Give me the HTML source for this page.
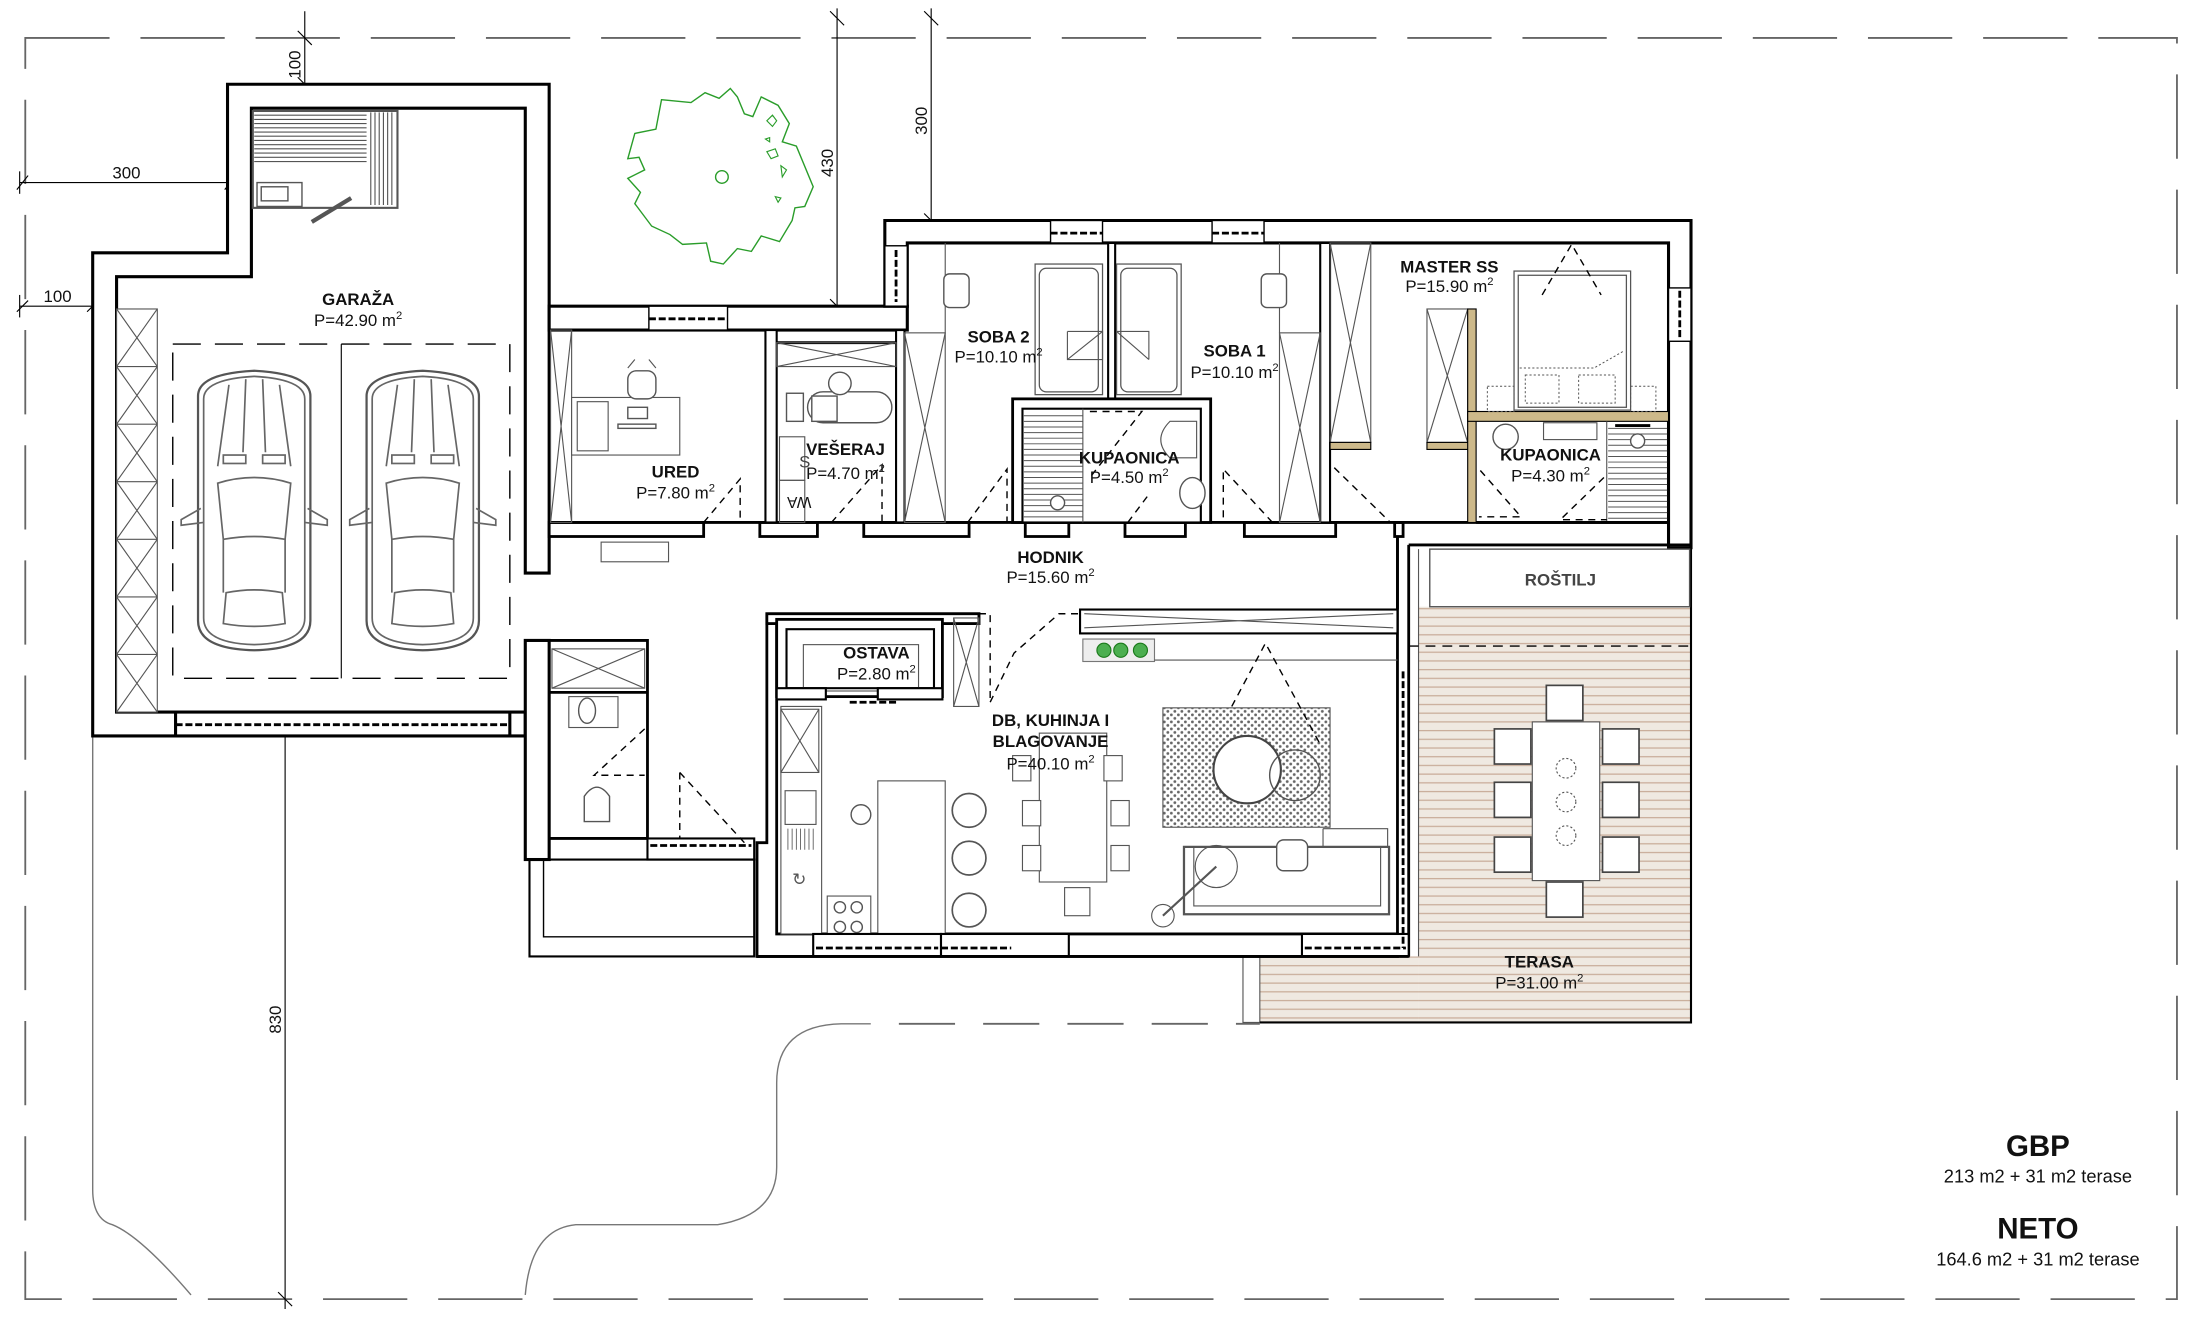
<!DOCTYPE html>
<html><head><meta charset="utf-8">
<style>
html,body{margin:0;padding:0;background:#fff;}
svg{display:block;}
text{font-family:"Liberation Sans Narrow","Liberation Sans",sans-serif;fill:#111;}
.lb{font-weight:bold;font-size:12px;text-anchor:middle;}
.ar{font-size:12px;text-anchor:middle;}
.w{fill:#fff;stroke:#000;stroke-width:2.2;}
.t{fill:none;stroke:#555;stroke-width:0.8;}
.g{fill:none;stroke:#666;stroke-width:1.2;}
.d{fill:none;stroke:#000;stroke-width:1;stroke-dasharray:5,4;}
.dd{fill:none;stroke:#000;stroke-width:2;stroke-dasharray:5,2;}
.pb{fill:none;stroke:#666;stroke-width:1.3;stroke-dasharray:60,22;}
.dim{stroke:#000;stroke-width:0.8;fill:none;}
</style></head>
<body>
<svg width="2191" height="1323" viewBox="0 0 1560 942" preserveAspectRatio="none" xmlns="http://www.w3.org/2000/svg">
<defs>
<pattern id="deck" width="10" height="6.2" patternUnits="userSpaceOnUse">
<rect width="10" height="6.2" fill="#efe9e1"/><line x1="0" y1="5.6" x2="10" y2="5.6" stroke="#c9ad9a" stroke-width="0.9"/>
</pattern>
<pattern id="dots" width="5" height="5" patternUnits="userSpaceOnUse">
<rect width="5" height="5" fill="#fff"/><circle cx="1.5" cy="1.5" r="1" fill="#666"/><circle cx="4" cy="4" r="1" fill="#666"/>
</pattern>
<g id="car">
<path d="M0,20 Q0,4 40,2 Q80,4 80,20 L80,180 Q80,200 40,201 Q0,200 0,180 Z" fill="#fff" stroke="#555" stroke-width="1.6"/>
<path d="M4,22 Q4,8 40,6 Q76,8 76,22 L76,178 Q76,196 40,197 Q4,196 4,178Z" class="g"/>
<path d="M14,82 Q40,74 66,82 L62,122 Q40,118 18,122 Z" class="g"/>
<path d="M20,160 Q40,156 60,160 L62,182 Q40,186 18,182Z" class="g"/>
<path d="M22,12 L14,70 M58,12 L66,70 M34,8 L32,60 M46,8 L48,60" class="g"/>
<rect x="18" y="62" width="16" height="6" class="g"/><rect x="46" y="62" width="16" height="6" class="g"/>
<path d="M2,100 L-12,108 L-12,112 L4,110 M78,100 L92,108 L92,112 L76,110" class="g"/>
<path d="M18,122 L18,160 M62,122 L62,160" class="g"/>
</g>
<g id="chairO">
<rect x="-9" y="-9" width="18" height="18" fill="#fff" stroke="#444" stroke-width="1"/>
</g>
</defs>

<!-- property boundary -->
<path d="M18,27 H1550 V925 H18 Z" class="pb"/>
<!-- landscape curves -->
<path d="M66,525 V847 Q66,868 80,872 Q100,880 136,922" fill="none" stroke="#777" stroke-width="1"/>
<path d="M374,922 Q378,875 410,872 H511 Q553,865 553,831 V771 Q553,730 599,729 H620" fill="none" stroke="#777" stroke-width="1"/>
<path d="M640,729 H897" class="pb" style="stroke-dasharray:40,20"/>

<!-- dimension lines -->
<g class="dim">
<line x1="217" y1="8" x2="217" y2="62"/><line x1="212" y1="22" x2="222" y2="32"/><line x1="212" y1="55" x2="222" y2="65"/>
<line x1="14" y1="130" x2="168" y2="130"/><line x1="14" y1="122" x2="14" y2="138"/><line x1="12" y1="135" x2="20" y2="125"/><line x1="160" y1="135" x2="168" y2="125"/>
<line x1="14" y1="218" x2="70" y2="218"/><line x1="14" y1="210" x2="14" y2="226"/><line x1="12" y1="222" x2="20" y2="214"/><line x1="62" y1="222" x2="70" y2="214"/>
<line x1="596" y1="6" x2="596" y2="225"/><line x1="591" y1="8" x2="601" y2="18"/><line x1="591" y1="213" x2="601" y2="223"/>
<line x1="663" y1="6" x2="663" y2="162"/><line x1="658" y1="8" x2="668" y2="18"/><line x1="658" y1="152" x2="668" y2="162"/>
<line x1="203" y1="525" x2="203" y2="932"/><line x1="198" y1="920" x2="208" y2="930"/>
</g>
<text x="0" y="0" font-size="12" transform="translate(214,46) rotate(-90)" text-anchor="middle">100</text>
<text x="90" y="127" font-size="12" text-anchor="middle">300</text>
<text x="41" y="215" font-size="12" text-anchor="middle">100</text>
<text x="0" y="0" font-size="12" transform="translate(593,116) rotate(-90)" text-anchor="middle">430</text>
<text x="0" y="0" font-size="12" transform="translate(660,86) rotate(-90)" text-anchor="middle">300</text>
<text x="0" y="0" font-size="12" transform="translate(200,726) rotate(-90)" text-anchor="middle">830</text>

<!-- tree -->
<path d="M471,71 L492,73 L502,66 L512,70 L520,63 L525,69 L530,81 L536,83 L542,69 L554,75 L562,88 L557,101 L567,104 L579,133 L573,147 L566,148 L564,157 L555,172 L542,168 L535,179 L525,177 L515,188 L506,186 L503,173 L486,174 L477,167 L464,161 L452,145 L456,137 L447,127 L459,121 L455,112 L447,113 L452,95 L467,92 Z" fill="none" stroke="#2a9d2a" stroke-width="1"/>
<circle cx="514" cy="126" r="4.5" fill="none" stroke="#2a9d2a"/>
<path d="M546,86 l4,-4 l3,4 l-3,4z M546,108 l6,-2 l2,5 l-5,2z M556,118 l4,3 l-3,5z M552,140 l4,1 l-2,3z M545,99 l3,-1 l0,3z" fill="none" stroke="#2a9d2a" stroke-width="0.8"/>

<!-- ===== GARAGE ===== -->
<path d="M66,524 V180 H162 V60 H391 V408 H374 V77 H179 V197 H83 V507 H374 V524 Z" class="w"/>
<rect x="374" y="456" width="17" height="156" class="w"/>
<rect x="125" y="507" width="238" height="17" class="w"/>
<line x1="125" y1="516" x2="363" y2="516" class="dd"/>
<!-- shelving -->
<rect x="83" y="220" width="29" height="287" fill="#fff" stroke="#555" stroke-width="0.8"/>
<g class="t">
<path d="M83,220 L112,261 M112,220 L83,261 M83,261 H112 M83,261 L112,302 M112,261 L83,302 M83,302 H112 M83,302 L112,343 M112,302 L83,343 M83,343 H112 M83,343 L112,384 M112,343 L83,384 M83,384 H112 M83,384 L112,425 M112,384 L83,425 M83,425 H112 M83,425 L112,466 M112,425 L83,466 M83,466 H112 M83,466 L112,507 M112,466 L83,507"/>
</g>
<!-- parking -->
<rect x="123" y="245" width="240" height="238" class="d" style="stroke-dasharray:20,10"/>
<line x1="243" y1="245" x2="243" y2="483" stroke="#000" stroke-width="0.8"/>
<use href="#car" x="141" y="262"/>
<use href="#car" x="261" y="262"/>
<!-- sauna -->
<rect x="180" y="79" width="103" height="69" fill="#fff" stroke="#555" stroke-width="1.5"/>
<g stroke="#555" stroke-width="0.8">
<path d="M181,82H261 M181,85H261 M181,88H261 M181,91H261 M181,94H261 M181,97H261 M181,100H261 M181,103H261 M181,106H261 M181,109H261 M181,112H261 M181,115H261"/>
<path d="M264,80V146 M267,80V146 M270,80V146 M273,80V146 M276,80V146 M279,80V146"/>
</g>
<rect x="181" y="116" width="80" height="31" fill="#fff"/>
<rect x="183" y="130" width="32" height="17" fill="#fff" stroke="#555"/>
<rect x="186" y="133" width="19" height="10" fill="none" stroke="#555"/>
<line x1="222" y1="158" x2="250" y2="141" stroke="#555" stroke-width="3"/>

<!-- ===== SOUTH-WEST (corridor top wall) ===== -->
<rect x="391" y="218" width="255" height="17" class="w"/>
<rect x="462" y="218" width="56" height="17" fill="#fff" stroke="#000" stroke-width="1"/>
<line x1="462" y1="227" x2="518" y2="227" class="dd"/>
<!-- block top -->
<path d="M630,218 V157 H1204 V390 H1188 V173 H646 V218 Z" class="w"/>
<rect x="630" y="175" width="16" height="43" fill="#fff" stroke="#000" stroke-width="1"/>
<line x1="638" y1="178" x2="638" y2="215" class="dd"/>
<rect x="748" y="157" width="37" height="16" fill="#fff" stroke="#000" stroke-width="1"/>
<line x1="748" y1="166" x2="785" y2="166" class="dd"/>
<rect x="863" y="157" width="37" height="16" fill="#fff" stroke="#000" stroke-width="1"/>
<line x1="863" y1="166" x2="900" y2="166" class="dd"/>
<rect x="1188" y="205" width="16" height="38" fill="#fff" stroke="#000" stroke-width="1"/>
<line x1="1196" y1="207" x2="1196" y2="241" class="dd"/>

<!-- room row bottom walls -->
<g class="w" style="stroke-width:2">
<rect x="391" y="372" width="110" height="10"/>
<rect x="541" y="372" width="41" height="10"/>
<rect x="615" y="372" width="75" height="10"/>
<rect x="730" y="372" width="31" height="10"/>
<rect x="801" y="372" width="43" height="10"/>
<rect x="886" y="372" width="65" height="10"/>
<rect x="993" y="372" width="6" height="10"/>
</g>
<line x1="391" y1="372" x2="1188" y2="372" stroke="#000" stroke-width="2"/>
<!-- partitions -->
<rect x="545" y="235" width="8" height="137" class="w" style="stroke-width:1.5"/>
<rect x="638" y="235" width="6" height="137" class="w" style="stroke-width:1.5"/>
<rect x="789" y="173" width="5" height="111" class="w" style="stroke-width:1.5"/>
<rect x="940" y="173" width="7" height="199" class="w" style="stroke-width:1.5"/>
<line x1="553" y1="244" x2="638" y2="244" stroke="#000" stroke-width="2"/>
<!-- UREd -->
<rect x="392" y="235" width="15" height="137" fill="none" stroke="#555" stroke-width="0.8"/>
<path d="M392,235 L407,372 M407,235 L392,372" class="t"/>
<rect x="407" y="283" width="77" height="41" fill="#fff" stroke="#555" stroke-width="0.8"/>
<rect x="411" y="286" width="22" height="35" fill="none" stroke="#555" stroke-width="0.8"/>
<rect x="447" y="290" width="14" height="8" fill="none" stroke="#555"/>
<rect x="440" y="302" width="27" height="3" fill="none" stroke="#555"/>
<rect x="447" y="264" width="20" height="20" rx="6" fill="#fff" stroke="#555"/>
<path d="M447,262 L452,256 M467,262 L462,256" class="t"/>
<path d="M501,372 L527,341 L527,372" class="d"/>
<rect x="428" y="386" width="48" height="14" fill="none" stroke="#555" stroke-width="0.8"/>
<text class="lb" x="481" y="340">URED</text>
<text class="ar" x="481" y="355">P=7.80 m<tspan dy="-5" font-size="8">2</tspan></text>
<!-- VESERAJ -->
<rect x="553" y="244" width="85" height="17" fill="none" stroke="#555" stroke-width="0.8"/>
<path d="M553,244 L638,261 M638,244 L553,261" class="t"/>
<rect x="575" y="279" width="60" height="22" rx="11" fill="#fff" stroke="#555"/>
<rect x="560" y="280" width="12" height="20" fill="none" stroke="#555"/>
<rect x="578" y="282" width="18" height="18" fill="#fff" stroke="#555"/>
<circle cx="598" cy="273" r="8" fill="#fff" stroke="#555"/>
<rect x="555" y="311" width="18" height="31" fill="none" stroke="#555" stroke-width="0.8"/>
<rect x="555" y="342" width="18" height="30" fill="none" stroke="#555" stroke-width="0.8"/>
<text x="569" y="333" font-size="12" fill="#444" style="fill:#444">S</text>
<text x="569" y="362" font-size="11" text-anchor="middle" transform="rotate(180,569,358)">WA</text>
<path d="M592,372 L628,331 L628,372" class="d"/>
<text class="lb" x="602" y="324">VEŠERAJ</text>
<text class="ar" x="602" y="341">P=4.70 m<tspan dy="-5" font-size="8">2</tspan></text>
<!-- SOBA 2 -->
<rect x="644" y="237" width="29" height="135" fill="none" stroke="#555" stroke-width="0.8"/>
<path d="M644,237 L673,372 M673,237 L644,372" class="t"/>
<line x1="673" y1="173" x2="673" y2="237" class="t"/>
<rect x="672" y="195" width="18" height="24" rx="4" fill="#fff" stroke="#555"/>
<rect x="737" y="188" width="48" height="93" fill="#fff" stroke="#555" stroke-width="0.9"/>
<rect x="740" y="191" width="42" height="88" rx="5" fill="none" stroke="#555" stroke-width="0.9"/>
<path d="M760,236 H785 V256 M760,236 V256 H785 M760,256 L785,236" class="t"/>
<path d="M689,372 L717,334 L717,372" class="d"/>
<text class="lb" x="711" y="244">SOBA 2</text>
<text class="ar" x="711" y="258">P=10.10 m<tspan dy="-5" font-size="8">2</tspan></text>
<!-- SOBA 1 -->
<rect x="911" y="237" width="29" height="135" fill="none" stroke="#555" stroke-width="0.8"/>
<path d="M911,237 L940,372 M940,237 L911,372" class="t"/>
<line x1="911" y1="173" x2="911" y2="237" class="t"/>
<rect x="898" y="195" width="18" height="24" rx="4" fill="#fff" stroke="#555"/>
<rect x="795" y="188" width="46" height="93" fill="#fff" stroke="#555" stroke-width="0.9"/>
<rect x="798" y="191" width="40" height="88" rx="5" fill="none" stroke="#555" stroke-width="0.9"/>
<path d="M795,236 H818 V256 M795,236 L818,256" class="t"/>
<path d="M906,372 L871,334 L871,372" class="d"/>
<text class="lb" x="879" y="254">SOBA 1</text>
<text class="ar" x="879" y="269">P=10.10 m<tspan dy="-5" font-size="8">2</tspan></text>
<!-- KUPAONICA middle -->
<rect x="721" y="284" width="141" height="88" class="w" style="stroke-width:2"/>
<rect x="728" y="291" width="127" height="81" fill="#fff" stroke="#000" stroke-width="1.5"/>
<g stroke="#555" stroke-width="0.7">
<path d="M729,296H771 M729,300H771 M729,304H771 M729,308H771 M729,312H771 M729,316H771 M729,320H771 M729,324H771 M729,328H771 M729,332H771 M729,336H771 M729,340H771 M729,344H771 M729,348H771 M729,352H771 M729,356H771 M729,360H771 M729,364H771 M729,368H771"/>
</g>
<line x1="771" y1="291" x2="771" y2="372" stroke="#555" stroke-width="0.8"/>
<circle cx="753" cy="358" r="5" fill="#fff" stroke="#555"/>
<path d="M833,300 H852 V326 H833 Q820,313 833,300Z" fill="#fff" stroke="#555" stroke-width="0.8"/>
<ellipse cx="849" cy="351" rx="9" ry="11" fill="#fff" stroke="#555"/>
<path d="M776,293 H813 L776,340" class="d"/>
<path d="M803,372 L818,352" class="d"/>
<text class="lb" x="804" y="330">KUPAONICA</text>
<text class="ar" x="804" y="344">P=4.50 m<tspan dy="-5" font-size="8">2</tspan></text>
<!-- MASTER -->
<rect x="947" y="173" width="29" height="142" fill="none" stroke="#555" stroke-width="0.8"/>
<path d="M947,173 L976,315 M976,173 L947,315" class="t"/>
<rect x="947" y="315" width="29" height="5" fill="#cdb98a" stroke="#000" stroke-width="0.8"/>
<rect x="1016" y="220" width="29" height="95" fill="none" stroke="#555" stroke-width="0.8"/>
<path d="M1016,220 L1045,315 M1045,220 L1016,315" class="t"/>
<rect x="1016" y="315" width="34" height="5" fill="#cdb98a" stroke="#000" stroke-width="0.8"/>
<rect x="1045" y="220" width="6" height="152" fill="#cdb98a" stroke="#000" stroke-width="0.8"/>
<rect x="1045" y="293" width="143" height="7" fill="#cdb98a" stroke="#000" stroke-width="0.8"/>
<rect x="1078" y="193" width="83" height="99" fill="#fff" stroke="#555" stroke-width="0.9"/>
<rect x="1081" y="196" width="77" height="94" fill="none" stroke="#555" stroke-width="0.9"/>
<path d="M1082,262 H1135 L1156,250 M1086,267 H1110 V287 H1086Z M1124,267 H1150 V287 H1124Z" fill="none" stroke="#555" stroke-width="0.7" stroke-dasharray="1.5,1.5"/>
<rect x="1059" y="275" width="19" height="18" fill="none" stroke="#555" stroke-width="0.7" stroke-dasharray="1.5,1.5"/>
<rect x="1161" y="275" width="18" height="18" fill="none" stroke="#555" stroke-width="0.7" stroke-dasharray="1.5,1.5"/>
<path d="M1098,210 L1119,174 L1140,210" class="d"/>
<path d="M950,333 L990,372" class="d"/>
<text class="lb" x="1032" y="194">MASTER SS</text>
<text class="ar" x="1032" y="208">P=15.90 m<tspan dy="-5" font-size="8">2</tspan></text>
<!-- master bath -->
<g stroke="#555" stroke-width="0.7">
<path d="M1145,305H1187 M1145,309H1187 M1145,313H1187 M1145,317H1187 M1145,321H1187 M1145,325H1187 M1145,329H1187 M1145,333H1187 M1145,337H1187 M1145,341H1187 M1145,345H1187 M1145,349H1187 M1145,353H1187 M1145,357H1187 M1145,361H1187 M1145,365H1187 M1145,369H1187"/>
</g>
<line x1="1144" y1="300" x2="1144" y2="372" stroke="#555" stroke-width="0.8"/>
<line x1="1150" y1="303" x2="1175" y2="303" stroke="#000" stroke-width="2"/>
<circle cx="1166" cy="314" r="5" fill="#fff" stroke="#555"/>
<circle cx="1072" cy="311" r="9" fill="#fff" stroke="#555"/>
<rect x="1099" y="301" width="38" height="12" fill="none" stroke="#555" stroke-width="0.8"/>
<path d="M1054,335 L1083,368 H1053" class="d"/>
<path d="M1142,340 L1111,370 H1144" class="d"/>
<text class="lb" x="1104" y="328">KUPAONICA</text>
<text class="ar" x="1104" y="343">P=4.30 m<tspan dy="-5" font-size="8">2</tspan></text>
<line x1="1051" y1="372" x2="1188" y2="372" stroke="#000" stroke-width="2"/>

<!-- ===== HALL right wall & roštilj ===== -->
<path d="M995,382 V434 M1003,388 V681" stroke="#000" stroke-width="2" fill="none"/>
<line x1="995" y1="382" x2="995" y2="681" stroke="#000" stroke-width="2"/>
<line x1="1003" y1="388" x2="1204" y2="388" stroke="#000" stroke-width="2"/>
<!-- terrace -->
<rect x="1010" y="432" width="194" height="296" fill="url(#deck)"/>
<rect x="897" y="681" width="113" height="47" fill="url(#deck)"/>
<rect x="885" y="681" width="12" height="47" fill="#fff" stroke="#555" stroke-width="0.8"/>
<path d="M1204,388 V728 H897" stroke="#000" stroke-width="1.5" fill="none"/>
<line x1="1010" y1="391" x2="1010" y2="681" stroke="#555" stroke-width="0.8"/>
<rect x="1018" y="391" width="185" height="41" fill="#fff" stroke="#555" stroke-width="1"/>
<text x="1111" y="417" font-size="12" font-weight="bold" text-anchor="middle" style="fill:#444">ROŠTILJ</text>
<line x1="1003" y1="460" x2="1204" y2="460" class="d" style="stroke-dasharray:7,5"/>
<!-- terrace table -->
<rect x="1091" y="514" width="48" height="113" fill="#fff" stroke="#555" stroke-width="0.8"/>
<g fill="none" stroke="#555" stroke-width="0.8" stroke-dasharray="1.5,1.5">
<circle cx="1115" cy="547" r="7"/><circle cx="1115" cy="571" r="7"/><circle cx="1115" cy="595" r="7"/>
</g>
<g fill="#fff" stroke="#444" stroke-width="1.2">
<rect x="1101" y="488" width="26" height="25"/><rect x="1101" y="628" width="26" height="25"/>
<rect x="1064" y="519" width="26" height="25"/><rect x="1064" y="557" width="26" height="25"/><rect x="1064" y="596" width="26" height="25"/>
<rect x="1141" y="519" width="26" height="25"/><rect x="1141" y="557" width="26" height="25"/><rect x="1141" y="596" width="26" height="25"/>
</g>
<text class="lb" x="1096" y="689">TERASA</text>
<text class="ar" x="1096" y="704">P=31.00 m<tspan dy="-5" font-size="8">2</tspan></text>

<!-- HODNIK -->
<text class="lb" x="748" y="401">HODNIK</text>
<text class="ar" x="748" y="415">P=15.60 m<tspan dy="-5" font-size="8">2</tspan></text>

<!-- ===== LOWER LEFT ===== -->
<path d="M391,456 H461 V597 H391" fill="none" stroke="#000" stroke-width="2"/>
<rect x="393" y="462" width="66" height="28" fill="none" stroke="#555" stroke-width="0.8"/>
<path d="M393,462 L459,490 M459,462 L393,490" class="t"/>
<line x1="391" y1="493" x2="461" y2="493" stroke="#000" stroke-width="2"/>
<rect x="405" y="496" width="35" height="22" fill="none" stroke="#555" stroke-width="0.8"/>
<ellipse cx="418" cy="506" rx="6" ry="9" fill="none" stroke="#555"/>
<path d="M416,575 V567 Q425,554 434,567 V585 H416Z" fill="#fff" stroke="#555"/>
<path d="M459,519 L423,552 H459" class="d"/>
<rect x="461" y="597" width="76" height="15" fill="#fff" stroke="#000" stroke-width="1.5"/>
<line x1="463" y1="602" x2="535" y2="602" class="dd"/>
<path d="M484,550 V597 M484,550 L530,600" class="d"/>
<path d="M377,612 H537 V681 H377Z" fill="none" stroke="#000" stroke-width="1.5"/>
<path d="M387,612 V667 H537" fill="none" stroke="#000" stroke-width="1"/>

<!-- ===== DB / KITCHEN ===== -->
<path d="M546,437 H697 V444 H553 V665 H995 V681 H539 V600 H546 Z" class="w" style="stroke-width:2"/>
<rect x="546" y="437" width="151" height="7" class="w" style="stroke-width:2"/>
<rect x="553" y="441" width="118" height="55" class="w" style="stroke-width:2"/>
<rect x="560" y="448" width="105" height="42" fill="#fff" stroke="#000" stroke-width="1.5"/>
<rect x="572" y="459" width="82" height="33" fill="none" stroke="#555" stroke-width="0.8"/>
<rect x="553" y="490" width="35" height="8" fill="#fff" stroke="#000" stroke-width="1.5"/>
<rect x="625" y="490" width="46" height="8" fill="#fff" stroke="#000" stroke-width="1.5"/>
<line x1="605" y1="500" x2="640" y2="500" class="dd"/>
<text class="lb" x="624" y="469">OSTAVA</text>
<text class="ar" x="624" y="484">P=2.80 m<tspan dy="-5" font-size="8">2</tspan></text>
<rect x="679" y="440" width="18" height="63" fill="none" stroke="#555" stroke-width="0.8"/>
<path d="M679,440 L697,503 M697,440 L679,503" class="t"/>
<path d="M697,437 H705 V500 M705,500 L722,465 L754,437 H769" class="d"/>
<!-- kitchen top strip -->
<rect x="769" y="434" width="226" height="17" fill="#fff" stroke="#000" stroke-width="1.5"/>
<path d="M772,437 L992,447 M992,437 L772,447" class="t"/>
<rect x="771" y="455" width="51" height="16" fill="#eee" stroke="#777" stroke-width="0.8"/>
<g fill="#4caf50" stroke="#1b7a1b" stroke-width="0.8"><circle cx="786" cy="463" r="5"/><circle cx="798" cy="463" r="5"/><circle cx="812" cy="463" r="5"/></g>
<line x1="822" y1="470" x2="995" y2="470" stroke="#555" stroke-width="0.8"/>
<!-- counter -->
<rect x="556" y="503" width="29" height="162" fill="#fff" stroke="#555" stroke-width="0.8"/>
<rect x="556" y="505" width="27" height="45" fill="none" stroke="#555" stroke-width="0.8"/>
<path d="M556,505 L583,550 M583,505 L556,550" class="t"/>
<rect x="559" y="563" width="22" height="24" fill="none" stroke="#555" stroke-width="0.8"/>
<g stroke="#555" stroke-width="0.6"><path d="M561,590V605 M564,590V605 M567,590V605 M570,590V605 M573,590V605 M576,590V605 M579,590V605"/></g>
<text x="569" y="630" font-size="12" text-anchor="middle" style="fill:#555">↻</text>
<rect x="589" y="638" width="31" height="28" fill="#fff" stroke="#555" stroke-width="0.8"/>
<g fill="none" stroke="#555"><circle cx="598" cy="646" r="4"/><circle cx="610" cy="646" r="4"/><circle cx="598" cy="660" r="4"/><circle cx="610" cy="660" r="4"/></g>
<!-- island -->
<rect x="625" y="556" width="48" height="109" fill="#fff" stroke="#555" stroke-width="0.8"/>
<g fill="#fff" stroke="#555" stroke-width="1.2"><circle cx="690" cy="577" r="12"/><circle cx="690" cy="611" r="12"/><circle cx="690" cy="648" r="12"/></g>
<circle cx="613" cy="580" r="7" fill="#fff" stroke="#555"/>
<!-- dining -->
<rect x="740" y="522" width="48" height="106" fill="#fff" stroke="#555" stroke-width="0.8"/>
<g fill="#fff" stroke="#555" stroke-width="0.8">
<rect x="721" y="538" width="13" height="18"/><rect x="786" y="538" width="13" height="18"/>
<rect x="728" y="570" width="13" height="18"/><rect x="791" y="570" width="13" height="18"/>
<rect x="728" y="602" width="13" height="18"/><rect x="791" y="602" width="13" height="18"/>
<rect x="758" y="632" width="18" height="20"/>
</g>
<text class="lb" x="748" y="517">DB, KUHINJA I</text>
<text class="lb" x="748" y="532">BLAGOVANJE</text>
<text class="ar" x="748" y="548">P=40.10 m<tspan dy="-5" font-size="8">2</tspan></text>
<!-- living -->
<rect x="828" y="504" width="119" height="85" fill="url(#dots)" stroke="#555" stroke-width="0.8"/>
<circle cx="888" cy="548" r="24" fill="#fff" stroke="#444" stroke-width="1.5"/>
<circle cx="922" cy="552" r="18" fill="none" stroke="#555"/>
<path d="M877,503 L901,458 L940,530" class="d"/>
<path d="M843,603 H989 V651 H843 Z" fill="none" stroke="#555" stroke-width="1.6"/>
<path d="M850,603 V645 H983 V603" fill="none" stroke="#555" stroke-width="0.8"/>
<path d="M942,590 V603 M942,590 H988 V603" fill="none" stroke="#555" stroke-width="0.8"/>
<circle cx="866" cy="617" r="15" fill="none" stroke="#555" stroke-width="0.8"/>
<circle cx="828" cy="652" r="8" fill="none" stroke="#555" stroke-width="0.8"/>
<line x1="828" y1="652" x2="866" y2="617" stroke="#555" stroke-width="1.5"/>
<rect x="909" y="598" width="22" height="22" rx="5" fill="#fff" stroke="#555"/>
<!-- bottom windows -->
<g>
<rect x="579" y="665" width="91" height="16" fill="#fff" stroke="#000" stroke-width="1.5"/>
<line x1="581" y1="675" x2="668" y2="675" class="dd"/>
<rect x="670" y="665" width="91" height="16" fill="#fff" stroke="#000" stroke-width="1.5"/>
<line x1="670" y1="675" x2="720" y2="675" class="dd"/>
<rect x="927" y="665" width="76" height="16" fill="#fff" stroke="#000" stroke-width="1.5"/>
<line x1="929" y1="675" x2="1001" y2="675" class="dd"/>
<line x1="999" y1="478" x2="999" y2="675" class="dd"/>
</g>
<line x1="539" y1="681" x2="1003" y2="681" stroke="#000" stroke-width="2"/>

<!-- GARAŽA label -->
<text class="lb" x="255" y="217">GARAŽA</text>
<text class="ar" x="255" y="232">P=42.90 m<tspan dy="-5" font-size="8">2</tspan></text>

<!-- totals -->
<text x="1451" y="823" font-size="21" font-weight="bold" text-anchor="middle" style="font-family:'Liberation Sans',sans-serif">GBP</text>
<text x="1451" y="842" font-size="13" text-anchor="middle" style="font-family:'Liberation Sans',sans-serif">213 m2 + 31 m2 terase</text>
<text x="1451" y="882" font-size="21" font-weight="bold" text-anchor="middle" style="font-family:'Liberation Sans',sans-serif">NETO</text>
<text x="1451" y="901" font-size="13" text-anchor="middle" style="font-family:'Liberation Sans',sans-serif">164.6 m2 + 31 m2 terase</text>
</svg>
</body></html>
